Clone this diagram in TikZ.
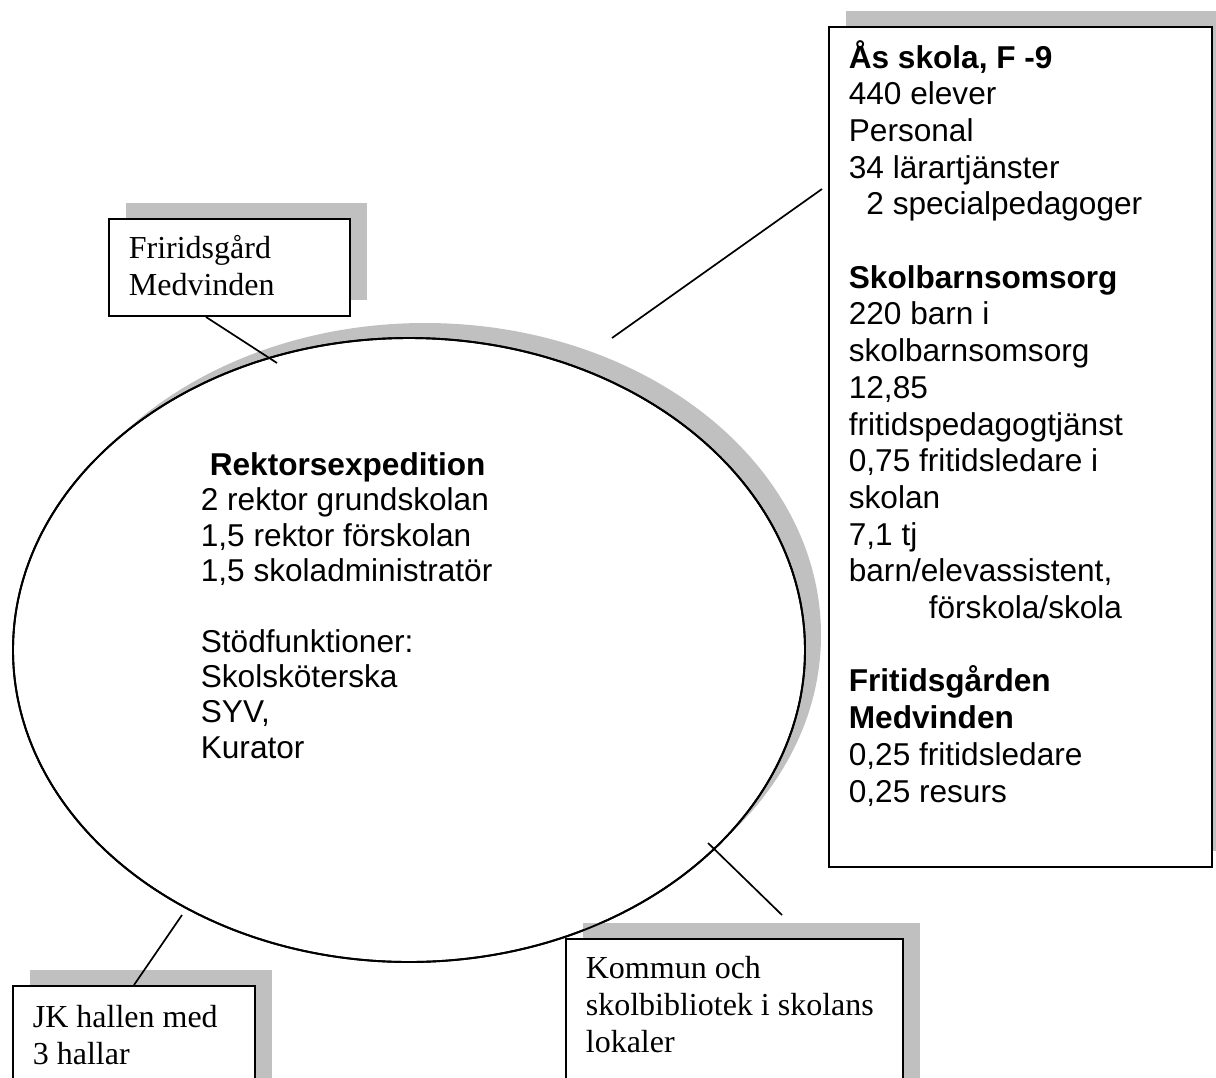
\documentclass[tikz,border=0pt]{standalone}
\usepackage{fontspec}
\setmainfont{Liberation Serif}
\newfontfamily\arial{Liberation Sans}
\usetikzlibrary{shapes.geometric}
\usetikzlibrary{shadows}
\definecolor{shadowgray}{RGB}{192,192,192}
\tikzset{
  shade box/.style={drop shadow={shadow xshift=17pt,shadow yshift=16pt,fill=shadowgray,opacity=1}},
  box/.style={draw,line width=2pt,fill=white,rectangle,anchor=north west,inner sep=0pt,shade box},
  serif/.style={align=left,anchor=base west,inner sep=0pt,font=\fontsize{32}{37}\selectfont},
  sans/.style={align=left,anchor=base west,inner sep=0pt,font=\arial\fontsize{31.6}{36.7}\selectfont},
}

\begin{document}
\begin{tikzpicture}[x=1pt,y=-1pt,line width=1.7pt]
		\useasboundingbox (0,0) rectangle (1216,1077);
		\clip (0,0) rectangle (1216,1077);
		% ellipse in the middle
		\node[ellipse,draw,fill=white,line width=1.9pt,minimum width=792pt,minimum height=624pt,inner sep=0pt,
			drop shadow={shadow xshift=16pt,shadow yshift=15pt,fill=shadowgray,opacity=1}] (rekt) at (409,650) {};
		% base west = baseline of the last line
		\node[sans,font=\arial\fontsize{31.6}{35.3}\selectfont] (rekttxt) at (200,758)
			{\hspace*{9pt}\textbf{Rektorsexpedition}\\2 rektor grundskolan\\1,5 rektor förskolan\\1,5 skoladministratör\\[35.3pt]
			Stödfunktioner:\\Skolsköterska\\SYV,\\Kurator};
		% boxes
		\node[box,minimum width=383pt,minimum height=840pt] (as) at (828,26) {};
		\node[sans] (astxt) at (848,802)
			{\textbf{Ås skola, F -9}\\440 elever\\Personal\\34 lärartjänster\\\hspace*{17.6pt}2 specialpedagoger\\[36.7pt]
			\textbf{Skolbarnsomsorg}\\220 barn i\\skolbarnsomsorg\\12,85\\fritidspedagogtjänst\\0,75 fritidsledare i\\skolan\\7,1 tj\\barn/elevassistent,\\\hspace*{80pt}förskola/skola\\[36.7pt]
			\textbf{Fritidsgården}\\\textbf{Medvinden}\\0,25 fritidsledare\\0,25 resurs};
		\node[box,minimum width=241pt,minimum height=97pt] (fri) at (108,218) {};
		\node[serif] (fritxt) at (128,295) {Friridsgård\\Medvinden};
		\node[box,minimum width=242pt,minimum height=130pt] (jk) at (12,985) {};
		\node[serif] (jktxt) at (32,1064) {JK hallen med\\3 hallar};
		\node[box,minimum width=337pt,minimum height=180pt] (kom) at (565,938) {};
		\node[serif] (komtxt) at (585,1052) {Kommun och\\skolbibliotek i skolans\\lokaler};
		% outline again, over the shadow of the Kommun box
		\draw[line width=1.9pt] (rekt.center) ellipse [x radius=396, y radius=312];
		% connectors
		\coordinate (rekt-fri) at (277,363);
		\coordinate (rekt-jk) at (182,915);
		\coordinate (rekt-as) at (612,338);
		\coordinate (as-end) at (822,189);
		\coordinate (rekt-kom) at (708,843);
		\coordinate (kom-end) at (782,915);
		\draw ([xshift=-23.5pt]fri.south) -- (rekt-fri);
		\draw (rekt-jk) -- (jk.north);
		\draw (rekt-as) -- (as-end);
		\draw (rekt-kom) -- (kom-end);
\end{tikzpicture}
\end{document}
